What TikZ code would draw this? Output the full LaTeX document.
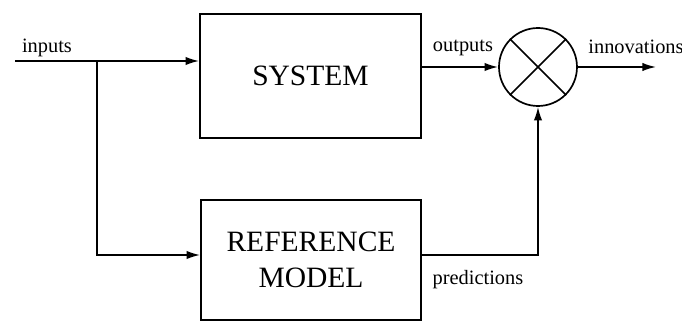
\documentclass[tikz,border=0pt]{standalone}
\usepackage{fontspec}
\setmainfont{Liberation Serif}
\usetikzlibrary{shapes,arrows,arrows.meta}
\tikzset{blk/.style={draw=black,rectangle,line width=1.2pt,align=center,font=\fontsize{21}{25}\selectfont}}

\begin{document}
\begin{tikzpicture}[x=0.25mm,y=-0.25mm,line width=1.2pt,
    lbl/.style = {font=\fontsize{14.5}{17}\selectfont, inner sep=0pt},
    sig/.style = {-{Latex[length=3.4mm,width=2.1mm]}}]
    \useasboundingbox (0,0) rectangle (682,322);
    \node[blk, minimum width=55.25mm, minimum height=31mm] (sys) at (310.5,76) {SYSTEM};
    \node[blk, minimum width=55mm, minimum height=30mm] (ref) at (311,260) {REFERENCE\\[1pt]MODEL};
    \node[draw, circle, minimum size=19.5mm, inner sep=0pt] (sum) at (538,67) {};
    \draw (sum.north west) -- (sum.south east);
    \draw (sum.north east) -- (sum.south west);
    \coordinate (in) at (15,61);
    \coordinate (split) at (97,61);
    \coordinate (rin) at (97,255);
    \coordinate (out) at (656,67);
    \draw[sig] (in) -- (sys.west |- in);
    \draw[sig] (split) -- (rin) -- (ref.west |- rin);
    \draw[sig] (sys.east |- sum.west) -- (sum.west);
    \draw[sig] (sum.east) -- (out);
    \draw[sig] (ref.east |- rin) -- (sum |- rin) -- (sum.south);
    \node[lbl] (inlbl) at (47,48) {inputs};
    \node[lbl] (outlbl) at (463,48) {outputs};
    \node[lbl] (innlbl) at (636,47) {innovations};
    \node[lbl] (prelbl) at (478,280) {predictions};
\end{tikzpicture}
\end{document}
